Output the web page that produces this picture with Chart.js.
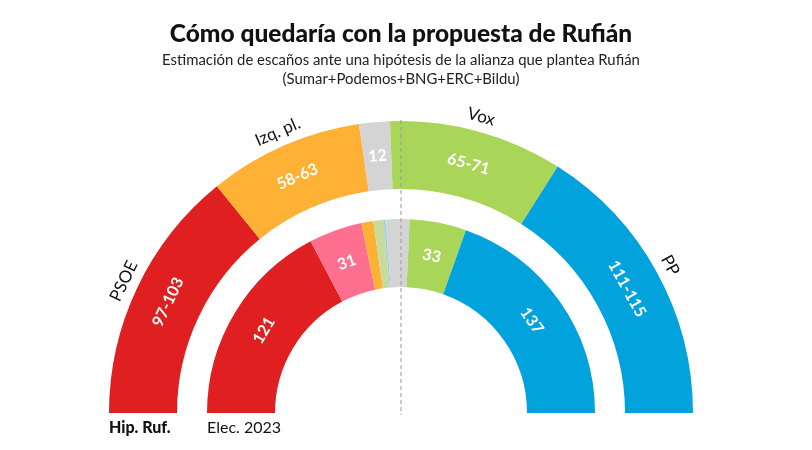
<!DOCTYPE html>
<html lang="es">
<head>
<meta charset="utf-8">
<script src="https://cdn.jsdelivr.net/npm/chart.js@4.4.1/dist/chart.umd.min.js"></script>
<style>
  html, body { margin: 0; padding: 0; background: #fff; }
  #wrap { position: relative; width: 812px; height: 450px; overflow: hidden; }
  #chart { position: absolute; left: 0; top: 0; }
  .head { position: absolute; left: 0; width: 802px; text-align: center; color: #111; font-family: Lato, "Open Sans", sans-serif; }
  h1 { top: 18px; margin: 0; font-size: 24.5px; font-weight: 900; color: #000; }
  .sub { top: 50px; margin: 0; font-size: 14.9px; line-height: 19px; color: #222; }
</style>
</head>
<body>
<div id="wrap">
  <canvas id="chart" width="812" height="450"></canvas>
  <h1 class="head">Cómo quedaría con la propuesta de Rufián</h1>
  <p class="head sub">Estimación de escaños ante una hipótesis de la alianza que plantea Rufián<br>(Sumar+Podemos+BNG+ERC+Bildu)</p>
</div>
<script>
// hipótesis Rufián: midpoints of the ranges, the chart scales them to the half circle
const hipParties = ['PSOE', 'Izq. pl.', 'Otros', 'Vox', 'PP'];
const hipSeats = [100, 60.5, 12, 68, 113];
const hipRanges = ['97-103', '58-63', '12', '65-71', '111-115'];
const hipNames = ['PSOE', 'Izq. pl.', '', 'Vox', 'PP'];
const hipColors = ['#e02020', '#feb134', '#d4d4d4', '#a9d658', '#02a3dc'];

// elecciones generales 2023
const elecParties = ['PSOE', 'Sumar', 'ERC', 'EH Bildu', 'BNG', 'Otros', 'Vox', 'PP'];
const elecSeats = [121, 31, 7, 6, 1, 14, 33, 137];
const elecLabels = ['121', '31', '', '', '', '', '33', '137'];
const elecColors = ['#e02020', '#ff6f8f', '#feb134', '#c7dc9a', '#8ccff2', '#d4d4d4', '#a9d658', '#02a3dc'];

const ringTitles = ['Hip. Ruf.', 'Elec. 2023'];

const FONT = 'Lato, "Open Sans", sans-serif';

const arcLabels = {
    id: 'arcLabels',
    afterDatasetsDraw(chart, args, opts) {
        const ctx = chart.ctx;
        const outer = chart.getDatasetMeta(0).data[0];
        const cx = outer.x, cy = outer.y;

        // dashed middle line
        ctx.save();
        ctx.strokeStyle = '#9a9a9a';
        ctx.lineWidth = 1;
        ctx.setLineDash([4, 3]);
        ctx.beginPath();
        ctx.moveTo(cx, cy - outer.outerRadius - 1);
        ctx.lineTo(cx, cy + 2);
        ctx.stroke();
        ctx.restore();

        opts.rings.forEach((ring) => {
            const meta = chart.getDatasetMeta(ring.dataset);
            meta.data.forEach((arc, j) => {
                const p = arc.getProps(['x', 'y', 'startAngle', 'endAngle', 'innerRadius', 'outerRadius'], true);
                const mid = (p.startAngle + p.endAngle) / 2;
                const put = (text, r, font, color) => {
                    if (!text) return;
                    ctx.save();
                    ctx.translate(p.x + Math.cos(mid) * r, p.y + Math.sin(mid) * r);
                    ctx.rotate(mid + Math.PI / 2);
                    ctx.font = font;
                    ctx.fillStyle = color;
                    ctx.textAlign = 'center';
                    ctx.textBaseline = 'middle';
                    ctx.fillText(text, 0, 0);
                    ctx.restore();
                };
                put(ring.values[j], (p.innerRadius + p.outerRadius) / 2, '700 16px ' + FONT, '#fff');
                if (ring.names) put(ring.names[j], p.outerRadius + 15, '400 17px ' + FONT, '#111');
            });

            // ring title under its left end
            const first = meta.data[0];
            ctx.save();
            ctx.font = (ring.dataset === 0 ? '900 ' : '400 ') + '16px ' + FONT;
            ctx.fillStyle = '#111';
            ctx.textAlign = 'left';
            ctx.textBaseline = 'alphabetic';
            ctx.fillText(ring.title, first.x - first.outerRadius, first.y + 20);
            ctx.restore();
        });
    }
};

new Chart(document.getElementById('chart'), {
    type: 'doughnut',
    data: {
        labels: hipParties,
        datasets: [
            {label: 'Hip. Ruf.', data: hipSeats, backgroundColor: hipColors, borderWidth: 0, weight: 68},
            {label: '', data: [1], backgroundColor: 'rgba(0,0,0,0)', borderWidth: 0, weight: 30, hoverBackgroundColor: 'rgba(0,0,0,0)'},
            {label: 'Elec. 2023', data: elecSeats, backgroundColor: elecColors, borderWidth: 0, weight: 68}
        ]
    },
    options: {
        responsive: false,
        animation: false,
        rotation: -90,
        circumference: 180,
        radius: 292,
        cutout: '43.15%',
        layout: {padding: {top: 100, bottom: 16, left: 0, right: 10}},
        plugins: {
            legend: {display: false},
            tooltip: {enabled: false},
            arcLabels: {
                rings: [
                    {dataset: 0, values: hipRanges, names: hipNames, title: ringTitles[0]},
                    {dataset: 2, values: elecLabels, title: ringTitles[1]}
                ]
            }
        }
    },
    plugins: [arcLabels]
});
</script>
</body>
</html>
